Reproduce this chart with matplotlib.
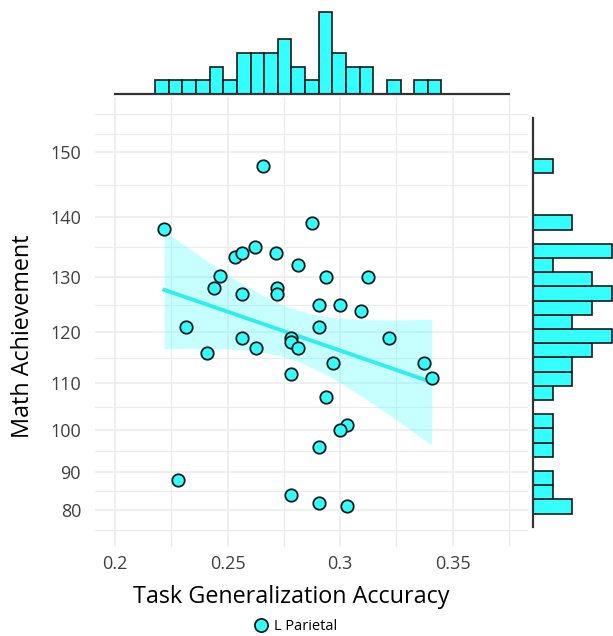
import numpy as np
import matplotlib
matplotlib.use('Agg')
import matplotlib.pyplot as plt
from matplotlib.lines import Line2D

# ---------------- data ----------------
accuracy = [0.2219, 0.2656, 0.2874, 0.2533, 0.2564, 0.2623, 0.2717, 0.2813,
            0.2468, 0.2438, 0.2563, 0.2718, 0.2718, 0.2907, 0.2314, 0.2563,
            0.2625, 0.2780, 0.2780, 0.2813, 0.2407, 0.2780, 0.2907, 0.2937,
            0.3125, 0.3000, 0.3093, 0.3217, 0.2970, 0.3374, 0.3407, 0.2937,
            0.3031, 0.2998, 0.2907, 0.2281, 0.2780, 0.2907, 0.3031]
math_ach = [138, 148, 139, 133.4, 134, 135, 134, 132,
            130.1, 128, 127, 128, 127, 125, 121, 119,
            117, 119, 118.1, 117, 116, 112, 121, 130,
            130, 125, 124, 119, 114, 114, 111, 107.2,
            101.1, 100, 96, 88, 84, 82, 81]
series_label = 'L Parietal'
x_ticks = [0.2, 0.25, 0.3, 0.35]
x_tick_labels = ['0.2', '0.25', '0.3', '0.35']
x_minor = [0.225, 0.275, 0.325, 0.375]
y_ticks = [80, 90, 100, 110, 120, 130, 140, 150]
x_title = 'Task Generalization Accuracy'
y_title = 'Math Achievement'

x = np.array(accuracy)
y = np.array(math_ach)

plt.rcParams['font.family'] = ['Open Sans', 'DejaVu Sans']

CYAN = '#33FFFF'
EDGE = '#1a1a1a'
GRID = '#EBEBEB'

W, H = 613, 636
fig = plt.figure(figsize=(W / 100, H / 100), dpi=100)


def rect(l, t, r, b):
    return [l / W, 1 - b / H, (r - l) / W, (b - t) / H]


def fwd(v):
    return np.square(v)


def inv(v):
    return np.sqrt(np.clip(v, 0, None))


ax = fig.add_axes(rect(95, 97, 528, 547))
ax_top = fig.add_axes(rect(95, 8, 528, 94))
ax_right = fig.add_axes(rect(533, 97, 613, 547))

# ---------------- main panel ----------------
ax.set_yscale('function', functions=(fwd, inv))
ax_right.set_yscale('function', functions=(fwd, inv))
xlim = (0.1911, 0.3835)
ylim = (68.8, 158.1)
ax.set_xlim(*xlim)
ax.set_ylim(*ylim)

# minor gridlines: midpoints in squared space
ysq = np.square(y_ticks)
y_minor = list(np.sqrt((ysq[:-1] + ysq[1:]) / 2))
y_minor += [74.2, 152.8, 155.6]

ax.set_xticks(x_ticks)
ax.set_xticklabels(x_tick_labels)
ax.set_xticks(x_minor, minor=True)
ax.set_yticks(y_ticks)
ax.set_yticklabels([str(v) for v in y_ticks])
ax.set_yticks(y_minor, minor=True)
ax.yaxis.set_minor_formatter(plt.NullFormatter())
ax.xaxis.set_minor_formatter(plt.NullFormatter())
ax.grid(which='major', color=GRID, lw=1.1)
ax.grid(which='minor', color=GRID, lw=0.8)
ax.set_axisbelow(True)
ax.tick_params(which='both', length=0)
ax.tick_params(axis='x', labelsize=13, colors='#404040', pad=6)
ax.tick_params(axis='y', labelsize=13, colors='#404040', pad=10)
for s in ax.spines.values():
    s.set_visible(False)

# regression in transformed (squared) space
t = np.square(y)
n = len(x)
b, a = np.polyfit(x, t, 1)
xs = np.linspace(x.min(), x.max(), 100)
pred = a + b * xs
resid = t - (a + b * x)
s = np.sqrt(np.sum(resid ** 2) / (n - 2))
sxx = np.sum((x - x.mean()) ** 2)
se = s * np.sqrt(1 / n + (xs - x.mean()) ** 2 / sxx)
tcrit = 2.026
ax.fill_between(xs, np.sqrt(pred - tcrit * se), np.sqrt(pred + tcrit * se),
                color=CYAN, alpha=0.27, lw=0, zorder=2)
ax.plot(xs, np.sqrt(pred), color='#2EEEEE', lw=2.8, zorder=3)
ax.scatter(x, y, s=80, facecolor=CYAN, edgecolor=EDGE, linewidth=1.3, zorder=4)

# ---------------- top marginal ----------------
x_edges = 0.2178 + 0.00606 * np.arange(22)
xc, _ = np.histogram(x, bins=x_edges)
ax_top.bar(x_edges[:-1], xc, width=np.diff(x_edges), align='edge',
           color=CYAN, edgecolor=EDGE, linewidth=1.2, zorder=2)
ax_top.set_xlim(*xlim)
ax_top.set_ylim(0, 6.27)
ax_top.plot([0.2, 0.375], [0, 0], color='#333333', lw=1.6, clip_on=False, zorder=3)
ax_top.axis('off')

# ---------------- right marginal ----------------
nb = 25
w = (t.max() - t.min()) / (nb - 1)
t_edges = t.min() - w / 2 + w * np.arange(nb + 1)
yc, _ = np.histogram(t, bins=t_edges)
y_edges = np.sqrt(t_edges)
ax_right.barh(y_edges[:-1], yc, height=np.diff(y_edges), align='edge',
              color=CYAN, edgecolor=EDGE, linewidth=1.2, zorder=2)
ax_right.set_ylim(*ylim)
ax_right.set_xlim(0, 4.06)
ax_right.plot([0, 0], [75.0, 155.1], color='#333333', lw=1.6, clip_on=False, zorder=3)
ax_right.axis('off')

# ---------------- titles & legend ----------------
fig.text(291.5 / W, 1 - 597 / H, x_title, ha='center', va='center', fontsize=16.8)
fig.text(23 / W, 1 - 336 / H, y_title, ha='center', va='center', rotation=90,
         fontsize=16.8)
handle = Line2D([], [], marker='o', ls='', markerfacecolor=CYAN,
                markeredgecolor=EDGE, markersize=9.5, markeredgewidth=1.3)
fig.legend(handles=[handle], labels=[series_label], loc='center',
           bbox_to_anchor=(295 / W, 1 - 627 / H), frameon=False, fontsize=10.5,
           handletextpad=0.3, borderpad=0, handlelength=1.2)

fig.savefig('out.png', dpi=100)
